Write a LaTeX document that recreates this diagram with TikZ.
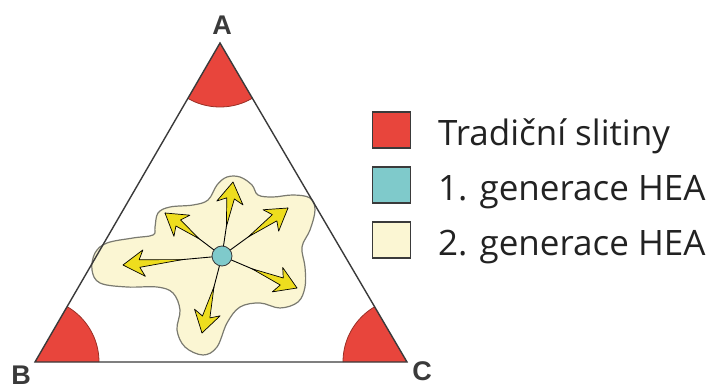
\documentclass[tikz,border=0pt]{standalone}
\usepackage{fontspec}
\setmainfont{Open Sans}
\newfontfamily\labfont{Liberation Sans}
\usetikzlibrary{calc}
\definecolor{redc}{HTML}{E8453C}
\definecolor{redline}{HTML}{9A2F25}
\definecolor{tealc}{HTML}{7FCACB}
\definecolor{creamc}{HTML}{FBF6D3}
\definecolor{yellowc}{HTML}{EEDD1E}
\definecolor{edgec}{HTML}{3A3A3A}
\definecolor{blobline}{HTML}{7A7A70}
\definecolor{textc}{HTML}{222222}
\tikzset{
  sector/.style={fill=redc, draw=redline, line width=0.8pt},
  tri/.style={draw=edgec, line width=1.4pt, line join=miter},
  blob/.style={fill=creamc, draw=blobline, line width=1.2pt},
  shaft/.style={draw=black, line width=0.9pt},
  ahead/.style={fill=yellowc, draw=black, line width=0.7pt, line join=round},
  dot/.style={circle, fill=tealc, draw=edgec, line width=0.8pt, minimum size=20pt, inner sep=0pt},
  vlabel/.style={font=\labfont\bfseries\fontsize{27}{30}\selectfont, text=edgec, inner sep=0pt},
  lsq/.style={draw=edgec, line width=1.2pt, minimum width=38pt, minimum height=36pt, inner sep=0pt},
  ltext/.style={font=\fontsize{35}{40}\selectfont, text=textc, inner sep=0pt, anchor=base west}
}
\begin{document}
\begin{tikzpicture}[x=1pt,y=-1pt]
\useasboundingbox (0,0) rectangle (707,390);
\coordinate (A) at (220,43);
\coordinate (B) at (35,362);
\coordinate (C) at (407,362);
% red sectors
\begin{scope}
  \clip (A) -- (B) -- (C) -- cycle;
  \foreach \v in {A,B,C} \draw[sector] (\v) circle (64pt);
\end{scope}
% blob
\draw[blob] plot[smooth cycle, tension=0.6] coordinates {
  (227,177) (240,177) (252,185) (258,195) (273,197) (293,195) (310,198)
  (315,210) (310,230) (302,247) (305,267) (305,287) (298,302) (280,308)
  (260,303) (240,307) (227,323) (217,347) (203,355) (185,347) (177,330)
  (180,310) (173,293) (157,287) (127,287) (100,283) (92,270) (95,253)
  (107,243) (133,238) (153,235) (155,227) (158,213) (170,207) (193,205)
  (208,200) (217,185)};
% triangle
\draw[tri] (A) -- (B) -- (C) -- cycle;
% arrows
\coordinate (c) at (222,256);
\coordinate (t1) at (233,182);
\coordinate (t2) at (165,213);
\coordinate (t3) at (288,208);
\coordinate (t4) at (123,265);
\coordinate (t5) at (297,288);
\coordinate (t6) at (202,333);
\foreach \t in {t1,t2,t3,t4,t5,t6} {
  \draw[shaft] (c) -- (\t);
  \draw[ahead] (\t) -- ($(\t)!25pt!32:(c)$) -- ($(\t)!17pt!13:(c)$)
     -- ($(\t)!0.6!(c)$) -- ($(\t)!17pt!-13:(c)$) -- ($(\t)!25pt!-32:(c)$) -- cycle;
}
\node[dot] (cd) at (c) {};
% vertex labels
\node[vlabel] (la) at (222,25) {A};
\node[vlabel] (lb) at (21,375) {B};
\node[vlabel] (lc) at (422,371) {C};
% legend
\node[lsq, fill=redc] (s1) at (391.5,130) {};
\node[lsq, fill=tealc] (s2) at (391.5,185) {};
\node[lsq, fill=creamc] (s3) at (391.5,240) {};
\node[ltext] (x1) at (438,146) {Tradiční slitiny};
\node[ltext] (x2) at (438,201) {1. generace HEA};
\node[ltext] (x3) at (438,256) {2. generace HEA};
\end{tikzpicture}
\end{document}
